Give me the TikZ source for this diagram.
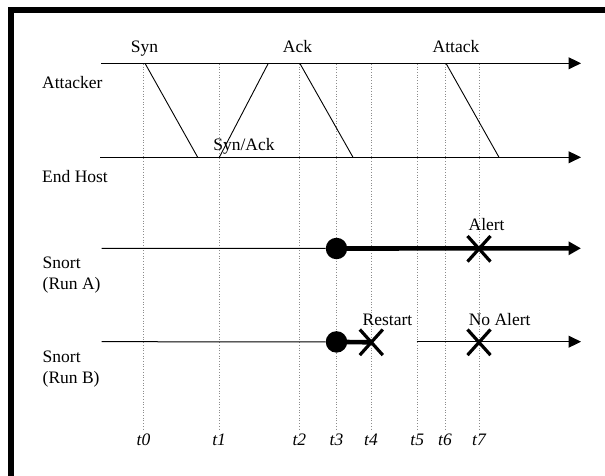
\documentclass[tikz,border=0pt]{standalone}
\usepackage{fontspec}
\setmainfont{Liberation Serif}
\usetikzlibrary{arrows.meta,calc}
\begin{document}
\begin{tikzpicture}[x=1pt,y=-1pt,
  font=\fontsize{17.5}{21}\selectfont,
  timeline/.style={line width=1pt,-{Triangle[length=12.5pt,width=12pt]}},
  thinline/.style={line width=1pt},
  boldline/.style={line width=4.6pt},
  msg/.style={line width=0.9pt},
  tick/.style={draw=black!45,dotted,line width=0.7pt},
  lbl/.style={anchor=base west,inner sep=0pt,align=left},
  mlbl/.style={anchor=base,inner sep=0pt},
  tlbl/.style={anchor=base,inner sep=0pt,font=\fontsize{17.5}{21}\selectfont\itshape},
  dot/.style={circle,fill=black,inner sep=0pt,minimum size=21.5pt},
  cross/.style={line width=3.2pt}]
\useasboundingbox (0,0) rectangle (605,476);
\fill[white] (0,0) rectangle (605,476);
% frame (left and top edges)
\draw[line width=5.5pt] (11,476) -- (11,10) -- (605,10);

% time marks
\foreach \n/\x in {0/143.5,1/219.1,2/299.4,3/336.5,4/371,5/417.3,6/445,7/479}{
  \coordinate (tt\n) at (\x,64);
  \coordinate (tb\n) at (\x,430);
  \draw[tick] (tt\n) -- (tb\n);
  \node[tlbl] (tl\n) at (\x,445) {t\n};
}

% row labels (two-line labels sit on the baseline of their last line)
\node[lbl] (attacker) at (42,88.3) {Attacker};
\node[lbl] (endhost) at (42,182.7) {End Host};
\node[lbl] (runa) at (42.5,289.3) {Snort\\(Run A)};
\node[lbl] (runb) at (42.5,383.3) {Snort\\(Run B)};

% timelines
\coordinate (aS) at (101,63.3);  \coordinate (aE) at (581,63.3);
\coordinate (hS) at (100,157.3); \coordinate (hE) at (581,157.3);
\coordinate (rAS) at (101.5,248.3); \coordinate (rAE) at (581,248.3);
\coordinate (rBS) at (101.5,341.7); \coordinate (rBE) at (581,341.7);
\draw[timeline] (aS) -- (aE);
\draw[timeline] (hS) -- (hE);

% handshake and attack messages
\coordinate (synA) at (145,63.3);   \coordinate (synH) at (197.7,157.3);
\coordinate (saH) at (219.3,157.3); \coordinate (saA) at (268.3,63.3);
\coordinate (ackA) at (299.8,63.3); \coordinate (ackH) at (353,157.3);
\coordinate (atkA) at (446,63.3);   \coordinate (atkH) at (499,157.3);
\draw[msg] (synA) -- (synH);
\draw[msg] (saH) -- (saA);
\draw[msg] (ackA) -- (ackH);
\draw[msg] (atkA) -- (atkH);
\node[mlbl] (syn) at (144.5,52.7) {Syn};
\node[mlbl] (ack) at (297.5,52.7) {Ack};
\node[mlbl] (attack) at (456,52.7) {Attack};
\node[mlbl] (synack) at (244,150.7) {Syn/Ack};

% Snort run A
\node[dot] (startA) at (336.5,248.5) {};
\draw[thinline] (rAS) -- (startA);
\draw[boldline,-{Triangle[length=12.5pt,width=13pt]}] (startA.center) -- (rAE);
\coordinate (xA) at (479,248.8);
\draw[cross] ($(xA)+(-11.5,-12.8)$) -- ($(xA)+(11.5,12.8)$);
\draw[cross] ($(xA)+(-11.5,12.8)$) -- ($(xA)+(11.5,-12.8)$);
\node[mlbl] (alert) at (486.6,230.7) {Alert};

% Snort run B
\node[dot] (startB) at (336.5,341.9) {};
\coordinate (xB1) at (371.3,342.3);
\coordinate (resume) at (416.7,341.7);
\coordinate (xB2) at (479,342.3);
\draw[thinline] (rBS) -- (startB);
\draw[boldline] (startB.center) -- (xB1);
\draw[timeline] (resume) -- (rBE);
\draw[cross] ($(xB1)+(-11.5,-12.8)$) -- ($(xB1)+(11.5,12.8)$);
\draw[cross] ($(xB1)+(-11.5,12.8)$) -- ($(xB1)+(11.5,-12.8)$);
\draw[cross] ($(xB2)+(-11.5,-12.8)$) -- ($(xB2)+(11.5,12.8)$);
\draw[cross] ($(xB2)+(-11.5,12.8)$) -- ($(xB2)+(11.5,-12.8)$);
\node[mlbl] (restart) at (387.5,325) {Restart};
\node[mlbl] (noalert) at (499.7,325) {No Alert};
\end{tikzpicture}
\end{document}
